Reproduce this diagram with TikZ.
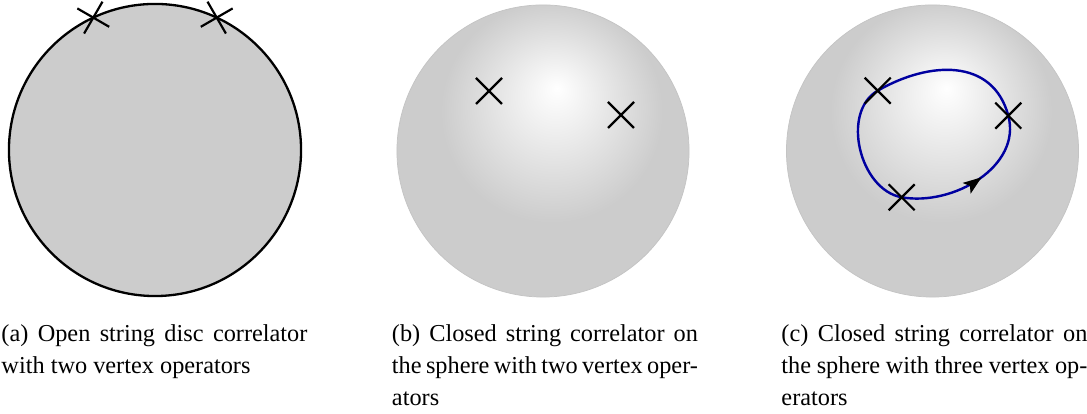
\documentclass[tikz,border=0pt]{standalone}
\usepackage{fontspec}
\setmainfont{Liberation Serif}
\usetikzlibrary{arrows.meta,positioning,shapes.misc,decorations.markings}
\definecolor{DiscGray}{RGB}{204,204,204}
\definecolor{RimGray}{RGB}{196,196,196}
\definecolor{LoopBlue}{RGB}{0,0,160}
\pgfdeclareradialshading{sphereshade}{\pgfpoint{2.4bp}{10.8bp}}{%
  color(0bp)=(white); color(19bp)=(DiscGray); color(50bp)=(DiscGray)}
\tikzset{
  disc/.style    ={circle, draw=black, line width=.95pt, fill=DiscGray,
                   minimum size=120.2pt, inner sep=0pt, outer sep=0pt},
  sphere/.style  ={circle, draw=RimGray, line width=.3pt, shade, shading=sphereshade,
                   minimum size=120.2pt, inner sep=0pt, outer sep=0pt},
  vtx/.style     ={cross out, draw=black, line width=.9pt, minimum size=10.7pt,
                   inner sep=0pt, outer sep=0pt},
  loopline/.style={draw=LoopBlue, line width=1pt, line cap=round,
                   postaction={decorate}, decoration={markings,
                   mark=at position .19 with {\arrow{Stealth[length=7.6pt,width=5.4pt,inset=1.6pt,color=black]}}}},
  capt/.style    ={text width=125.9pt, align=justify, inner sep=0pt,
                   font=\fontsize{10}{13}\selectfont, anchor=base west},
}

\begin{document}
\begin{tikzpicture}[x=0.4115pt, y=0.4115pt]
  \useasboundingbox (0,0) rectangle (1087,414);
  % (a) disc with two boundary insertions
  \node[disc] (da) at (155,264) {};
  \node[vtx,rotate=15] (a1) at (da.115) {};
  \node[vtx,rotate=-15] (a2) at (da.65) {};
  % (b) sphere, two insertions
  \node[sphere] (sb) at (543,263) {};
  \node[vtx] (b1) at (489,323) {};
  \node[vtx] (b2) at (621,299) {};
  % (c) sphere, three insertions and a loop through them
  \node[sphere] (sc) at (932.5,263) {};
  \coordinate (p1) at (877.7,323.3);
  \coordinate (p2) at (1008.3,298.3);
  \coordinate (p3) at (901.7,216.7);
  \draw[loopline] (p3) to[out=-10,in=-75] (p2)
    to[out=105,in=30,looseness=1.15] (p1) to[out=210,in=170] (p3);
  \node[vtx] (c1) at (p1) {};
  \node[vtx] (c2) at (p2) {};
  \node[vtx] (c3) at (p3) {};
  % captions
  \node[capt] (ca) at (1,72) {(a) Open string disc correlator\linebreak with two vertex operators};
  \node[capt] (cb) at (391.5,72) {(b) Closed string correlator on\linebreak the sphere with two vertex oper-\linebreak ators};
  \node[capt] (cc) at (781,72) {(c) Closed string correlator on\linebreak the sphere with three vertex op-\linebreak erators};
\end{tikzpicture}
\end{document}
